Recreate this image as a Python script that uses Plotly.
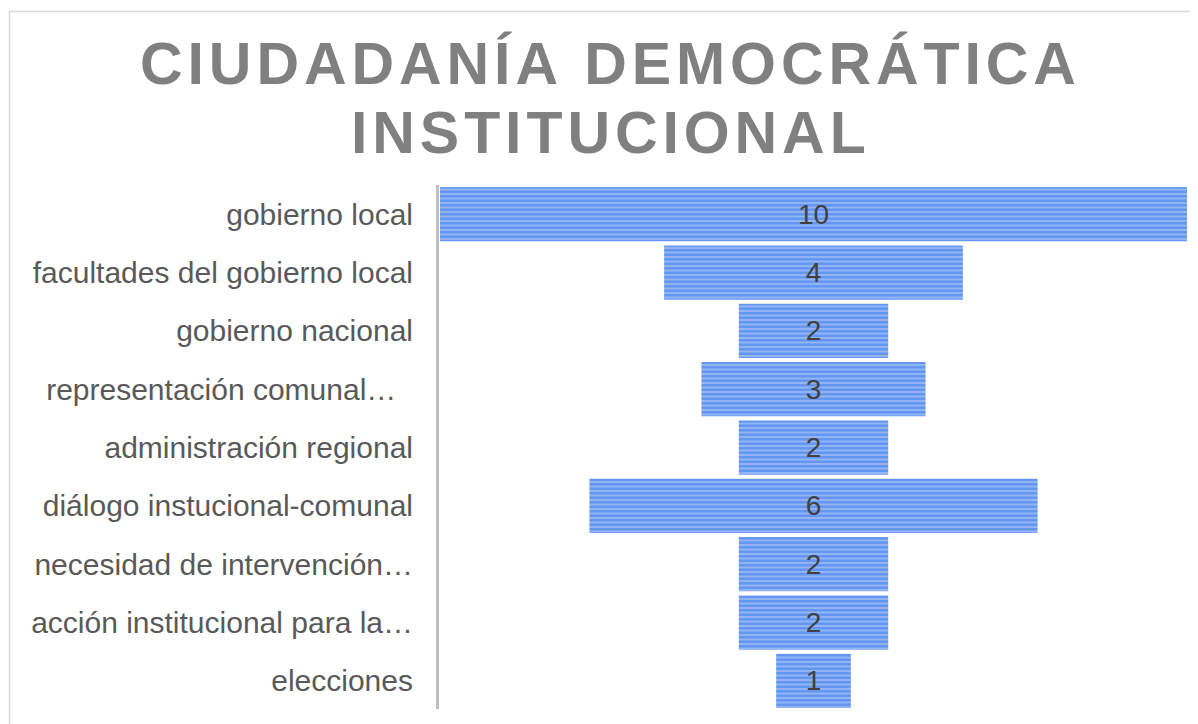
import plotly.graph_objects as go

categories = [
    "gobierno local",
    "facultades del gobierno local",
    "gobierno nacional",
    "representación comunal…\u00a0\u00a0",
    "administración regional",
    "diálogo instucional-comunal",
    "necesidad de intervención…",
    "acción institucional para la…",
    "elecciones",
]
values = [10, 4, 2, 3, 2, 6, 2, 2, 1]

title_lines = ["CIUDADANÍA DEMOCRÁTICA", "INSTITUCIONAL"]
HS = "\u200a"


def spaced(s):
    return HS.join(list(s))


# page has an 8px body margin: work in page pixels, convert to paper
OFF = 8
W, H = 1190, 716


def px(x):
    return (x - OFF) / W


def py(y):
    return 1 - (y - OFF) / H


fig = go.Figure(
    go.Bar(
        y=categories,
        x=values,
        base=[-v / 2 for v in values],
        orientation="h",
        text=[str(v) for v in values],
        textposition="inside",
        insidetextanchor="middle",
        textangle=0,
        insidetextfont=dict(family="Liberation Sans, Arial", size=28, color="#404040"),
        marker=dict(
            color="#93b6f5",
            line=dict(width=0),
            pattern=dict(shape="-", fgcolor="#2f72ee", bgcolor="#93b6f5", size=4.5, solidity=0.55),
        ),
        hoverinfo="skip",
    )
)

title_annotations = [
    dict(
        text="<b>" + spaced(line) + "</b>",
        x=px(608),
        y=py(yc),
        xref="paper",
        yref="paper",
        xanchor="center",
        yanchor="middle",
        showarrow=False,
        font=dict(family="Liberation Sans, Arial", size=59, color="#808080"),
        align="center",
    )
    for line, yc in zip(title_lines, [64, 133])
]

fig.update_layout(
    width=W,
    height=H,
    margin=dict(l=0, r=0, t=0, b=0),
    paper_bgcolor="white",
    plot_bgcolor="white",
    bargap=0.07,
    showlegend=False,
    xaxis=dict(
        domain=[px(440), px(1187)],
        range=[-5, 5],
        visible=False,
        fixedrange=True,
    ),
    yaxis=dict(
        domain=[py(710), py(185)],
        autorange="reversed",
        showline=False,
        showgrid=False,
        ticks="",
        ticklabelstandoff=26,
        tickfont=dict(family="Liberation Sans, Arial", size=30, color="#595959"),
    ),
    annotations=title_annotations,
    shapes=[
        dict(
            type="rect",
            xref="paper",
            yref="paper",
            x0=px(9.5),
            x1=1.02,
            y0=-0.05,
            y1=py(11.5),
            line=dict(color="#d9d9d9", width=1.5),
            fillcolor="rgba(0,0,0,0)",
            layer="below",
        ),
        dict(
            type="line",
            xref="paper",
            yref="paper",
            x0=px(437.5),
            x1=px(437.5),
            y0=py(709),
            y1=py(185),
            line=dict(color="#bfbfbf", width=3),
        ),
    ],
)

fig.write_html("out.html")
